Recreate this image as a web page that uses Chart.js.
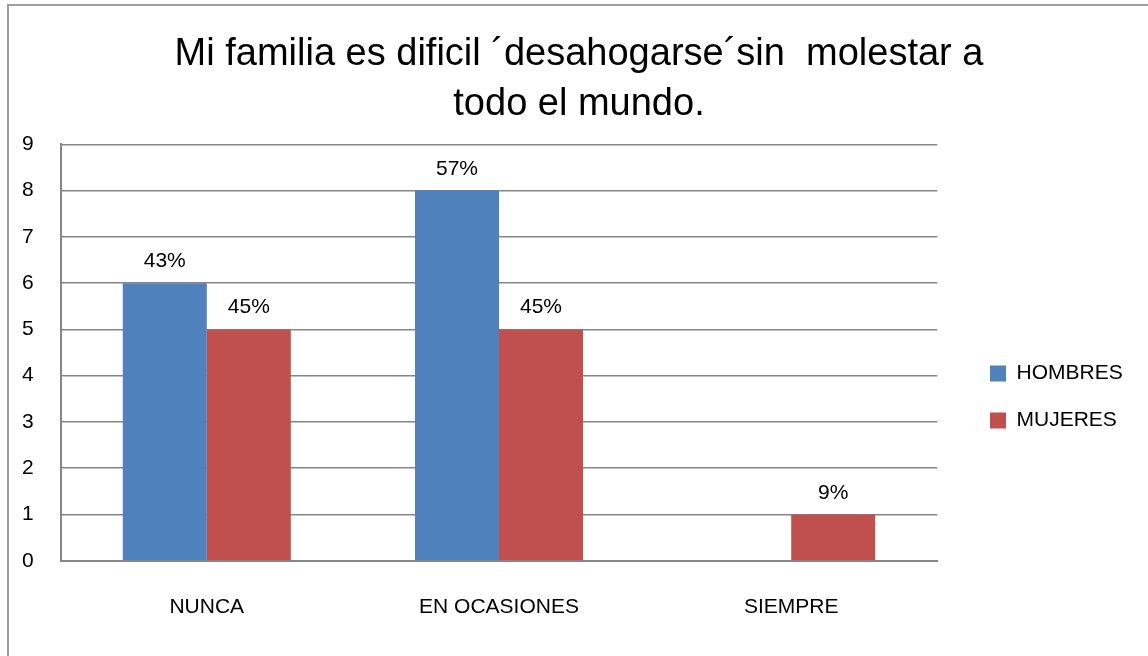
<!DOCTYPE html>
<html>
<head>
<meta charset="utf-8">
<script src="https://cdn.jsdelivr.net/npm/chart.js@4.4.0/dist/chart.umd.min.js"></script>
<style>
  html, body { margin: 0; padding: 0; background: #fff; }
  #frame { position: absolute; left: 7px; top: 4px; width: 1200px; height: 700px; border: 2px solid #a0a0a0; box-sizing: border-box; }
  #wrap { position: absolute; left: 0; top: 0; width: 1148px; height: 656px; }
</style>
</head>
<body>
<div id="frame"></div>
<div id="wrap"><canvas id="grafico"></canvas></div>
<script>
var categorias = ['NUNCA', 'EN OCASIONES', 'SIEMPRE'];
var hombres = [6, 8, 0];
var mujeres = [5, 5, 1];
var hombresPct = ['43%', '57%', ''];
var mujeresPct = ['45%', '45%', '9%'];
var yTicks = [0, 1, 2, 3, 4, 5, 6, 7, 8, 9];

var fuente = 'Liberation Sans, Open Sans, sans-serif';

// etiquetas de porcentaje encima de cada barra
var etiquetas = {
    id: 'etiquetas',
    afterDatasetsDraw: function (chart) {
        var ctx = chart.ctx;
        var textos = [hombresPct, mujeresPct];
        ctx.save();
        ctx.font = '21px ' + fuente;
        ctx.fillStyle = '#000';
        ctx.textAlign = 'center';
        ctx.textBaseline = 'alphabetic';
        chart.data.datasets.forEach(function (ds, i) {
            chart.getDatasetMeta(i).data.forEach(function (bar, j) {
                if (textos[i][j]) ctx.fillText(textos[i][j], bar.x, bar.y - 16);
            });
        });
        ctx.restore();
    }
};

// mover la leyenda y el título a su sitio
var mover = {
    id: 'mover',
    afterLayout: function (chart) {
        var lg = chart.legend;
        if (lg) {
            var dx = 964 - lg.left;
            var dy = 397 - (lg.top + lg.bottom) / 2;
            lg.left += dx; lg.right += dx;
            lg.top += dy; lg.bottom += dy;
        }
        var t = chart.titleBlock;
        if (t) {
            var tx = 579 - (t.left + t.right) / 2;
            t.left += tx; t.right += tx;
        }
    }
};

var ctx = document.getElementById('grafico').getContext('2d');
window.grafico = new Chart(ctx, {
    type: 'bar',
    data: {
        labels: categorias,
        datasets: [{
            label: 'HOMBRES',
            data: hombres,
            backgroundColor: '#4f81bd'
        }, {
            label: 'MUJERES',
            data: mujeres,
            backgroundColor: '#c0504d'
        }]
    },
    options: {
        responsive: true,
        maintainAspectRatio: false,
        animation: false,
        categoryPercentage: 0.575,
        barPercentage: 1,
        layout: { padding: { left: -5, right: 42, top: 29, bottom: 2 } },
        plugins: {
            title: {
                display: true,
                text: ['Mi familia es dificil ´desahogarse´sin  molestar a', 'todo el mundo.'],
                color: '#000',
                font: { family: fuente, size: 38, weight: 'normal', lineHeight: 1.32 },
                padding: { top: 0, bottom: 15 }
            },
            legend: {
                position: 'right',
                labels: {
                    color: '#000',
                    boxWidth: 16,
                    boxHeight: 16,
                    padding: 26,
                    font: { family: fuente, size: 21 }
                }
            },
            tooltip: { enabled: false }
        },
        scales: {
            x: {
                grid: { display: false, drawTicks: false },
                border: { color: '#868686', width: 2 },
                ticks: { color: '#000', padding: 34, font: { family: fuente, size: 21 } }
            },
            y: {
                min: 0,
                max: 9,
                afterBuildTicks: function (axis) {
                    axis.ticks = yTicks.map(function (v) { return { value: v }; });
                },
                grid: { color: '#868686', lineWidth: 1.5, drawTicks: false },
                border: { color: '#868686', width: 2 },
                ticks: { color: '#000', padding: 27, font: { family: fuente, size: 21 } }
            }
        }
    },
    plugins: [etiquetas, mover]
});
</script>
</body>
</html>
